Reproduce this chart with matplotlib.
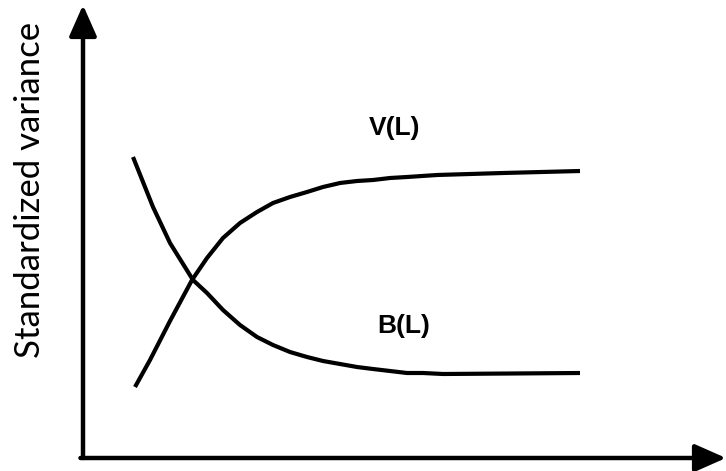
import matplotlib.pyplot as plt

# lag L (arbitrary units) and standardized variance for the two curves
L_v = [0.52, 0.67, 0.87, 1.09, 1.24, 1.40, 1.57, 1.74, 1.90, 2.07,
       2.24, 2.40, 2.57, 2.74, 2.90, 3.07, 3.24, 3.54, 4.20, 4.97]
V_L = [0.71, 0.98, 1.37, 1.78, 2.00, 2.20, 2.35, 2.46, 2.55, 2.61,
       2.66, 2.71, 2.75, 2.77, 2.78, 2.80, 2.81, 2.83, 2.85, 2.87]

L_b = [0.50, 0.70, 0.87, 1.10, 1.24, 1.40, 1.57, 1.74, 1.90, 2.07,
       2.24, 2.40, 2.57, 2.74, 2.90, 3.07, 3.24, 3.40, 3.60, 4.97]
B_L = [3.01, 2.51, 2.15, 1.78, 1.65, 1.48, 1.33, 1.21, 1.13, 1.06,
       1.01, 0.97, 0.94, 0.91, 0.89, 0.87, 0.85, 0.85, 0.84, 0.85]

W, H = 726, 471
fig = plt.figure(figsize=(W / 100, H / 100), dpi=100)
ax = fig.add_axes([83 / W, 13 / H, 643 / W, 453 / H])
ax.set_xlim(0, 6.43)
ax.set_ylim(0, 4.53)
ax.axis("off")

# axes drawn as arrows
arrow = dict(arrowstyle="-|>,head_length=0.95,head_width=0.42", lw=3.2,
             color="black", mutation_scale=20, shrinkA=0, shrinkB=0)
ax.annotate("", xy=(0, 1), xytext=(0, 0), xycoords="axes fraction",
            arrowprops=arrow, annotation_clip=False)
ax.annotate("", xy=(1, 0), xytext=(-0.004, 0), xycoords="axes fraction",
            arrowprops=arrow, annotation_clip=False)

ax.plot(L_v, V_L, color="black", lw=3.0, solid_capstyle="butt")
ax.plot(L_b, B_L, color="black", lw=3.0, solid_capstyle="butt")

ax.text(3.12, 3.30, "V(L)", fontsize=19, fontweight="bold",
        family="Liberation Sans", ha="center", va="center")
ax.text(3.21, 1.32, "B(L)", fontsize=19, fontweight="bold",
        family="Liberation Sans", ha="center", va="center")

fig.text(30 / W, 1 - 190 / H, "Standardized variance", rotation=90,
         fontsize=25, family="Lato", ha="center", va="center")

fig.savefig("out.png", dpi=100)
